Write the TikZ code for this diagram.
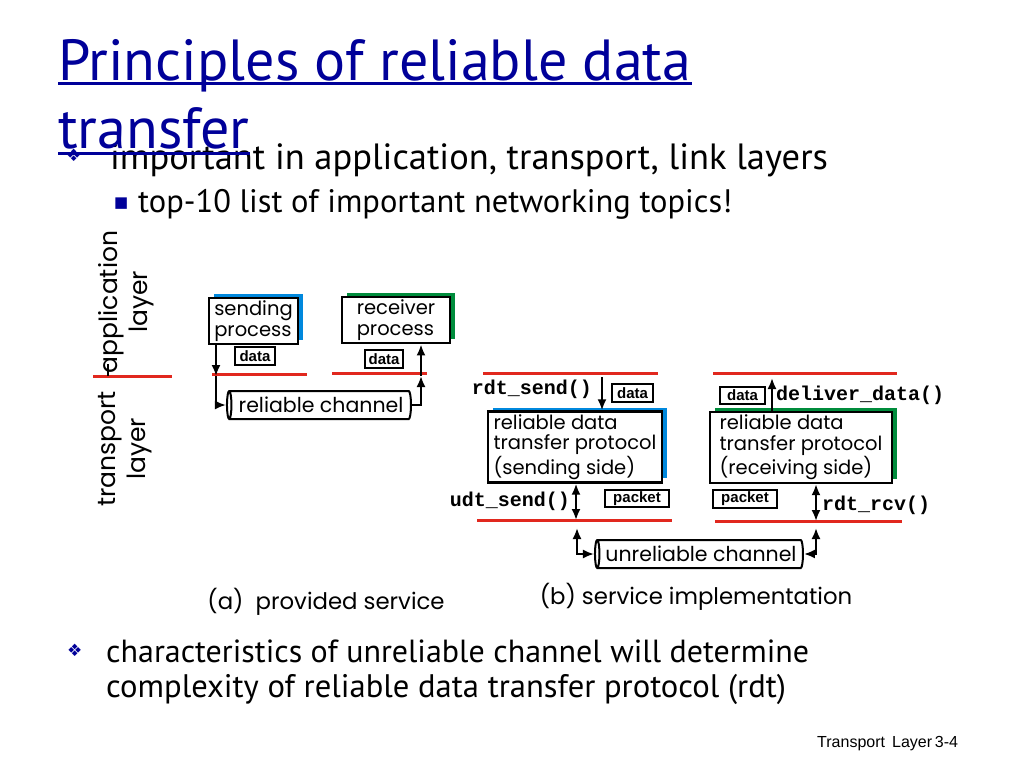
\documentclass[tikz,border=0pt]{standalone}
\usepackage{fontspec}
\setmainfont{PT Sans}
\newfontfamily\diagfont{Poppins}
\newfontfamily\codefont{Liberation Mono}
\newfontfamily\labfont{Liberation Sans}
\newfontfamily\symfont{DejaVu Sans}
\usetikzlibrary{shapes.geometric,shadows,arrows.meta}

\definecolor{titleblue}{RGB}{0,0,153}
\definecolor{layerred}{RGB}{225,40,30}
\definecolor{procblue}{RGB}{0,136,221}
\definecolor{procgreen}{RGB}{0,140,60}

\begin{document}
\begin{tikzpicture}[x=1pt,y=-1pt,
    slidetext/.style={anchor=base west,inner sep=0pt},
    layerlabel/.style={rotate=90,align=center,inner sep=0pt,
        font=\diagfont\fontsize{25}{30}\selectfont},
    layerline/.style={layerred,line width=3pt},
    procbox/.style={draw,fill=white,line width=2.5pt,align=left,
        inner sep=3pt,font=\diagfont\fontsize{19.5}{20.5}\selectfont},
    blueshade/.style={drop shadow={shadow xshift=5pt,shadow yshift=4pt,
        fill=procblue,opacity=1}},
    greenshade/.style={drop shadow={shadow xshift=5pt,shadow yshift=4pt,
        fill=procgreen,opacity=1}},
    msgbox/.style={draw,line width=2pt,inner sep=0pt,
        font=\labfont\bfseries\fontsize{15}{15}\selectfont},
    channel/.style={cylinder,shape border rotate=180,aspect=0.25,draw,
        line width=2pt,inner sep=1pt,font=\diagfont\fontsize{20.5}{21}\selectfont},
    callname/.style={inner sep=0pt,font=\codefont\bfseries\fontsize{20}{20}\selectfont},
    caption/.style={inner sep=0pt,font=\diagfont\fontsize{22.8}{24}\selectfont},
    flow/.style={-{Latex[length=11pt,width=9pt]},line width=2pt},
    twoflow/.style={{Latex[length=11pt,width=9pt]}-{Latex[length=11pt,width=9pt]},line width=2pt}]

\useasboundingbox (0,0) rectangle (1024,768);
\fill[white] (0,0) rectangle (1024,768);

% --------------------
% slide text
% --------------------
\node[slidetext,font=\symfont\fontsize{17}{17}\selectfont,text=titleblue] (bul1) at (66,161) {❖};
\node[slidetext,font=\fontsize{36.5}{38}\selectfont] (line1) at (110,169)
    {important in application, transport, link layers};
\node[slidetext,font=\symfont\fontsize{15}{15}\selectfont,text=titleblue] (bul2) at (114,207) {■};
\node[slidetext,font=\fontsize{32.5}{34}\selectfont] (line2) at (138,212)
    {top-10 list of important networking topics!};

\node[slidetext,font=\fontsize{58}{60}\selectfont,text=titleblue] (title1) at (58,80)
    {Principles of reliable data};
\node[slidetext,font=\fontsize{58}{60}\selectfont,text=titleblue] (title2) at (58,148)
    {transfer};
\draw[titleblue,line width=3pt] ([yshift=-3pt]title1.base west) -- ([yshift=-3pt]title1.base east);
\draw[titleblue,line width=3pt] ([yshift=-5pt]title2.base west) -- ([yshift=-5pt]title2.base east);

\node[slidetext,font=\symfont\fontsize{17}{17}\selectfont,text=titleblue] (bul3) at (67,656) {❖};
\node[slidetext,font=\fontsize{32}{34}\selectfont] (line3) at (106,662)
    {characteristics of unreliable channel will determine};
\node[slidetext,font=\fontsize{32.6}{34}\selectfont] (line4) at (106,697)
    {complexity of reliable data transfer protocol (rdt)};

\node[slidetext,font=\labfont\fontsize{16}{16}\selectfont] (footer) at (817,747)
    {Transport\,\ Layer\,3-4};

% --------------------
% layer labels
% --------------------
\node[layerlabel] (applayer) at (126,302) {application\\layer};
\node[layerlabel] (trplayer) at (125,449) {transport\\layer};
\draw[layerline] (93,376) -- (172,376);
\draw[line width=1.5pt] (108,364) -- (108,376);

% --------------------
% (a) provided service
% --------------------
\node[procbox,blueshade,minimum width=89pt,minimum height=42pt] (sndproc) at (253.5,321)
    {sending\\process};
\node[procbox,greenshade,minimum width=108pt,minimum height=43pt] (rcvproc) at (396,320)
    {receiver\\process};
\node[msgbox,minimum width=40pt,minimum height=18pt] (data1) at (255,356) {data};
\node[msgbox,minimum width=38pt,minimum height=18pt] (data2) at (384,359) {data};

\draw[layerline] (212,374) -- (307,374);
\draw[layerline] (332,373) -- (427,373);

\node[channel,minimum width=28pt,minimum height=184pt] (relchan) at (321,405)
    {reliable channel};

\coordinate (sA) at (216,376);
\coordinate (rA) at (421,376);
\draw[flow] (sndproc.south -| sA) -- (sA);
\draw[flow] (sA) |- (relchan.west);
\draw[flow] (relchan.east) -| (rA);
\draw[flow] (rA) -- (rcvproc.south -| rA);

\node[caption] (capa) at (326,602) {(a)\ \ provided service};

% --------------------
% (b) service implementation
% --------------------
\draw[layerline] (483,373) -- (658,373);
\draw[layerline] (713,373) -- (897,373);
\draw[layerline] (477,520) -- (672,520);
\draw[layerline] (715,521) -- (902,521);

\node[procbox,blueshade,minimum width=174pt,minimum height=70pt] (sndrdt) at (575,447)
    {reliable data\\transfer protocol\\(sending side)};
\node[procbox,greenshade,minimum width=182pt,minimum height=69pt] (rcvrdt) at (801,447.5)
    {reliable data\\transfer protocol\\(receiving side)};

\node[msgbox,minimum width=41pt,minimum height=18pt] (data3) at (632.5,393) {data};
\node[msgbox,minimum width=45pt,minimum height=17pt] (data4) at (742.5,395) {data};
\node[msgbox,minimum width=64pt,minimum height=17pt] (packet1) at (637,498.5) {packet};
\node[msgbox,minimum width=64pt,minimum height=18pt] (packet2) at (745,499) {packet};

\node[callname,anchor=east] (rdtsend) at (592,389) {rdt\_send()};
\node[callname,anchor=west] (deliver) at (776,395) {deliver\_data()};
\node[callname,anchor=east] (udtsend) at (570,501) {udt\_send()};
\node[callname,anchor=west] (rdtrcv) at (822,505) {rdt\_rcv()};

\node[channel,minimum width=28pt,minimum height=208pt] (unrelchan) at (701,554)
    {unreliable channel};

\coordinate (sB) at (602,377);
\coordinate (rB) at (772,378);
\coordinate (sC) at (576,520);
\coordinate (rC) at (816,521);
\coordinate (sD) at (577,528);
\coordinate (rD) at (816,528);
\draw[flow] (sB) -- (sB |- sndrdt.north);
\draw[flow] (rB |- rcvrdt.north) -- (rB);
\draw[twoflow] (sC |- sndrdt.south) -- (sC);
\draw[twoflow] (rC |- rcvrdt.south) -- (rC);
\draw[twoflow] (sD) |- (unrelchan.west);
\draw[twoflow] (rD) |- (unrelchan.east);

\node[caption] (capb) at (696,597) {(b) service implementation};

\end{tikzpicture}
\end{document}
